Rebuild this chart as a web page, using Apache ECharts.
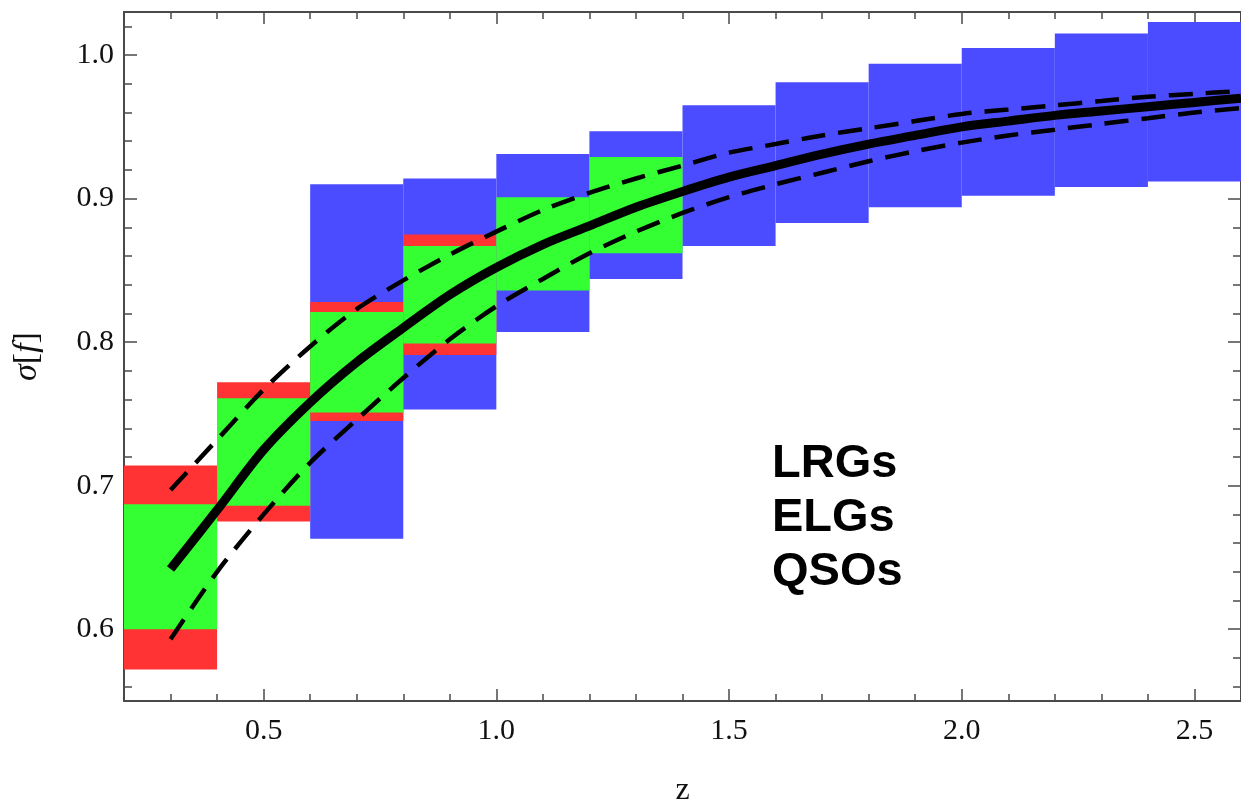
<!DOCTYPE html>
<html>
<head>
<meta charset="utf-8">
<script src="https://cdn.jsdelivr.net/npm/echarts@6/dist/echarts.min.js"></script>
<style type="text/css">
html, body {margin: 0; padding: 0; background: #fff;}
#chart {width: 1241px; height: 800px;}
</style>
</head>
<body>
<div id="chart"></div>
<script>
// bin edges and box limits per tracer
var lrgEdges = [0.2, 0.4, 0.6, 0.8, 1.0];
var lrgTop = [0.714, 0.772, 0.828, 0.875];
var lrgBottom = [0.572, 0.675, 0.745, 0.791];

var elgEdges = [0.2, 0.4, 0.6, 0.8, 1.0, 1.2, 1.4];
var elgTop = [0.687, 0.761, 0.821, 0.867, 0.901, 0.929];
var elgBottom = [0.600, 0.686, 0.751, 0.799, 0.836, 0.862];

var qsoEdges = [0.6, 0.8, 1.0, 1.2, 1.4, 1.6, 1.8, 2.0, 2.2, 2.4, 2.6];
var qsoTop = [0.910, 0.914, 0.931, 0.947, 0.965, 0.981, 0.994, 1.005, 1.015, 1.023];
var qsoBottom = [0.663, 0.753, 0.807, 0.844, 0.867, 0.883, 0.894, 0.902, 0.908, 0.912];

// curves
var zCurve = [0.3, 0.4, 0.5, 0.6, 0.7, 0.8, 0.9, 1.0, 1.1, 1.2, 1.3, 1.4, 1.5, 1.6, 1.7, 1.8, 1.9, 2.0, 2.1, 2.2, 2.3, 2.4, 2.5, 2.6];
var sigmaMid = [0.642, 0.683, 0.725, 0.758, 0.786, 0.810, 0.833, 0.852, 0.868, 0.881, 0.894, 0.905, 0.915, 0.923, 0.931, 0.938, 0.944, 0.950, 0.954, 0.958, 0.961, 0.964, 0.967, 0.970];
var sigmaUp = [0.697, 0.732, 0.767, 0.797, 0.823, 0.843, 0.861, 0.877, 0.892, 0.904, 0.914, 0.923, 0.932, 0.938, 0.944, 0.949, 0.954, 0.959, 0.962, 0.965, 0.968, 0.971, 0.973, 0.975];
var sigmaLow = [0.593, 0.640, 0.680, 0.716, 0.746, 0.775, 0.802, 0.825, 0.844, 0.862, 0.877, 0.890, 0.901, 0.910, 0.918, 0.926, 0.933, 0.939, 0.944, 0.948, 0.952, 0.956, 0.960, 0.963];

var xMajor = [0.5, 1.0, 1.5, 2.0, 2.5];
var yMajor = [0.6, 0.7, 0.8, 0.9, 1.0];
var labelLines = ['LRGs', 'ELGs', 'QSOs'];

var xMinor = [], yMinor = [];
for (var i = 2; i <= 26; i++) xMinor.push(i / 10);
for (var j = 28; j <= 51; j++) yMinor.push(j / 50);

function boxes(edges, top, bottom){
    var out = [];
    for (var k = 0; k < top.length; k++) out.push([edges[k], edges[k + 1], bottom[k], top[k]]);
    return out;
}
function curve(vals){
    return zCurve.map(function(z, k){ return [z, vals[k]]; });
}
function renderBox(params, api){
    var a = api.coord([api.value(0), api.value(3)]);
    var b = api.coord([api.value(1), api.value(2)]);
    return {
        type: 'rect',
        shape: {x: a[0], y: a[1], width: b[0] - a[0], height: b[1] - a[1]},
        style: api.style()
    };
}

var axisColor = '#4a4a4a';
var serif = 'Liberation Serif';

function xAx(pos, ticks, len, showLine, showLabel){
    return {
        type: 'value', position: pos, min: 0.2, max: 2.6,
        splitLine: {show: false},
        axisLine: {show: showLine, onZero: false, lineStyle: {color: axisColor, width: 2}},
        axisTick: {inside: true, length: len, customValues: ticks, lineStyle: {color: axisColor, width: 1.5}},
        axisLabel: {show: showLabel, customValues: xMajor, formatter: function(v){ return v.toFixed(1); },
            fontFamily: serif, fontSize: 30, color: '#111', margin: 15}
    };
}
function yAx(pos, ticks, len, showLine, showLabel){
    return {
        type: 'value', position: pos, min: 0.55, max: 1.03,
        splitLine: {show: false},
        axisLine: {show: showLine, onZero: false, lineStyle: {color: axisColor, width: 2}},
        axisTick: {inside: true, length: len, customValues: ticks, lineStyle: {color: axisColor, width: 1.5}},
        axisLabel: {show: showLabel, customValues: yMajor, formatter: function(v){ return v.toFixed(1); },
            fontFamily: serif, fontSize: 30, color: '#111', margin: 10}
    };
}

var xBottom = xAx('bottom', xMinor, 7, true, true);
xBottom.name = 'z';
xBottom.nameLocation = 'middle';
xBottom.nameGap = 74;
xBottom.nameTextStyle = {fontFamily: serif, fontSize: 32, color: '#111'};

var yLeft = yAx('left', yMinor, 8, true, true);
yLeft.name = '{i|σ}[{i|f}]';
yLeft.nameLocation = 'middle';
yLeft.nameGap = 80;
yLeft.nameTextStyle = {fontFamily: serif, fontSize: 34, color: '#111',
    rich: {i: {fontFamily: serif, fontSize: 34, fontStyle: 'italic', color: '#111'}}};

var myChart = echarts.init(document.getElementById('chart'), null, {renderer: 'canvas'});
myChart.setOption({
    animation: false,
    backgroundColor: '#fff',
    grid: {left: 124, right: 0, top: 12, bottom: 99, outerBoundsMode: 'none'},
    xAxis: [
        xBottom,
        xAx('bottom', xMajor, 12, false, false),
        xAx('top', xMinor, 7, true, false),
        xAx('top', xMajor, 12, false, false)
    ],
    yAxis: [
        yLeft,
        yAx('left', yMajor, 13, false, false),
        yAx('right', yMinor, 8, true, false),
        yAx('right', yMajor, 13, false, false)
    ],
    series: [
        {name: 'QSOs', type: 'custom', renderItem: renderBox, encode: {x: [0, 1], y: [2, 3]},
            itemStyle: {color: '#4b4bff'}, data: boxes(qsoEdges, qsoTop, qsoBottom)},
        {name: 'LRGs', type: 'custom', renderItem: renderBox, encode: {x: [0, 1], y: [2, 3]},
            itemStyle: {color: '#ff3333'}, data: boxes(lrgEdges, lrgTop, lrgBottom)},
        {name: 'ELGs', type: 'custom', renderItem: renderBox, encode: {x: [0, 1], y: [2, 3]},
            itemStyle: {color: '#33ff33'}, data: boxes(elgEdges, elgTop, elgBottom)},
        {type: 'line', showSymbol: false, smooth: 0.3, data: curve(sigmaUp),
            lineStyle: {color: '#000', width: 4.5, type: [24, 13]}},
        {type: 'line', showSymbol: false, smooth: 0.3, data: curve(sigmaLow),
            lineStyle: {color: '#000', width: 4.5, type: [24, 13]}},
        {type: 'line', showSymbol: false, smooth: 0.3, data: curve(sigmaMid),
            lineStyle: {color: '#000', width: 9}}
    ],
    graphic: [{
        type: 'text', left: 772, top: 437,
        style: {text: labelLines.join('\n'), fontFamily: 'Liberation Sans', fontWeight: 'bold',
            fontSize: 47, lineHeight: 54, fill: '#000'}
    }]
});
</script>
</body>
</html>
